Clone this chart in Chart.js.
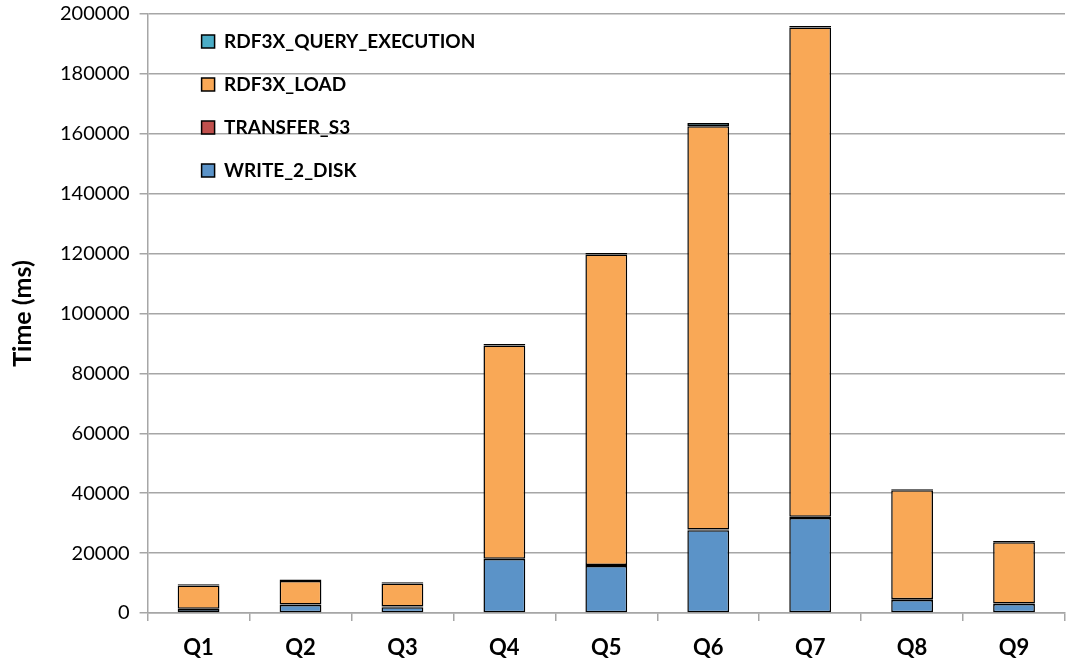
<!DOCTYPE html>
<html>
<head>
<meta charset="utf-8">
<script src="https://cdn.jsdelivr.net/npm/chart.js@4"></script>
<style>
  html, body { margin: 0; padding: 0; background: #fff; }
  #wrap { width: 1075px; height: 661px; }
</style>
</head>
<body>
<div id="wrap"><canvas id="barChart"></canvas></div>
<script>
const queries = ['Q1', 'Q2', 'Q3', 'Q4', 'Q5', 'Q6', 'Q7', 'Q8', 'Q9'];
const write2Disk = [1300, 2700, 1900, 18000, 15700, 27600, 31700, 4300, 3000];
const transferS3 = [100, 100, 250, 100, 300, 300, 400, 250, 150];
const rdf3xLoad = [7800, 7900, 7700, 71200, 103700, 134600, 163400, 36400, 20500];
const rdf3xQuery = [400, 500, 450, 500, 500, 1100, 500, 400, 400];
const yTicks = [0, 20000, 40000, 60000, 80000, 100000, 120000, 140000, 160000, 180000, 200000];

const fontFamily = 'Lato, "Open Sans", sans-serif';

// nudge the in-plot legend right/down, like the original
const legendOffset = {
    id: 'legendOffset',
    afterLayout(chart) {
        const lg = chart.legend;
        if (!lg) return;
        lg.left += 30;
        lg.right += 30;
        lg.top += 8;
        lg.bottom += 8;
    }
};

(function () {
    const mk = (label, data, color) => ({
        label: label,
        data: data,
        backgroundColor: color,
        borderColor: '#000',
        borderWidth: 1.5,
        borderSkipped: false,
        categoryPercentage: 0.41,
        barPercentage: 1.0
    });

    new Chart(
        document.getElementById('barChart'),
        {
            type: 'bar',
            data: {
                labels: queries,
                datasets: [
                    mk('WRITE_2_DISK', write2Disk, '#5B93C8'),
                    mk('TRANSFER_S3', transferS3, '#C0504D'),
                    mk('RDF3X_LOAD', rdf3xLoad, '#F9A856'),
                    mk('RDF3X_QUERY_EXECUTION', rdf3xQuery, '#4BACC6')
                ]
            },
            plugins: [legendOffset],
            options: {
                responsive: true,
                maintainAspectRatio: false,
                animation: false,
                layout: { padding: { top: 0, right: 10, left: 8, bottom: 0 } },
                plugins: {
                    tooltip: { enabled: false },
                    legend: {
                        position: 'chartArea',
                        align: 'start',
                        reverse: true,
                        labels: {
                            color: '#000',
                            font: { family: fontFamily, size: 19, weight: 'bold' },
                            boxWidth: 13,
                            boxHeight: 13,
                            padding: 24,
                            useBorderRadius: false
                        }
                    }
                },
                scales: {
                    x: {
                        stacked: true,
                        afterFit: s => { s.height = 48; },
                        border: { color: '#A6A6A6', width: 1.5 },
                        grid: {
                            offset: true,
                            drawOnChartArea: false,
                            color: '#A6A6A6',
                            tickLength: 8,
                            lineWidth: 1.5
                        },
                        ticks: {
                            color: '#000',
                            padding: 16,
                            font: { family: fontFamily, size: 22, weight: 'bold', lineHeight: 1.0 }
                        }
                    },
                    y: {
                        stacked: true,
                        min: 0,
                        max: 200000,
                        afterBuildTicks: axis => { axis.ticks = yTicks.map(v => ({ value: v })); },
                        border: { color: '#A6A6A6', width: 1.5 },
                        grid: {
                            color: '#A6A6A6',
                            lineWidth: 1.5,
                            tickLength: 8
                        },
                        ticks: {
                            color: '#000',
                            padding: 10,
                            font: { family: fontFamily, size: 20, lineHeight: 0.4 },
                            callback: v => String(v)
                        },
                        title: {
                            display: true,
                            text: 'Time (ms)',
                            color: '#000',
                            padding: { top: 0, bottom: 12 },
                            font: { family: fontFamily, size: 25, weight: 'bold' }
                        }
                    }
                }
            }
        }
    );
})();
</script>
</body>
</html>
